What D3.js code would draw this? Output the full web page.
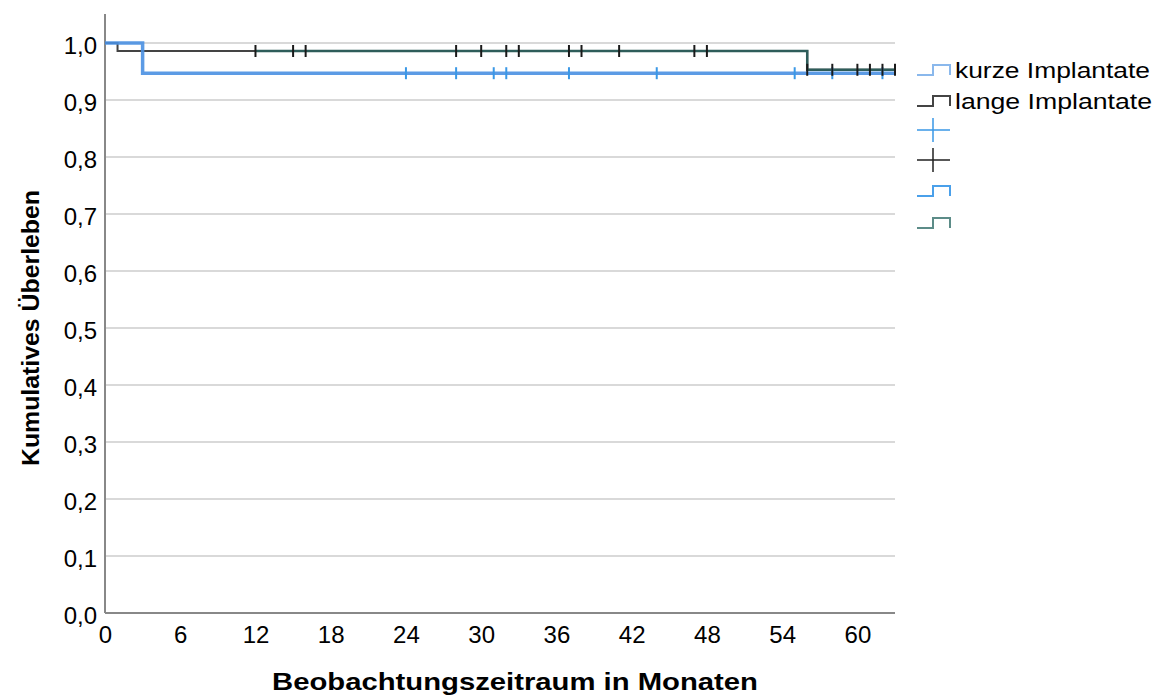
<!DOCTYPE html>
<html>
<head>
<meta charset="utf-8">
<script src="https://cdn.jsdelivr.net/npm/d3@7"></script>
<style>
  body { margin:0; background:#fff; }
  svg { display:block; font-family:"Liberation Sans", Arial, sans-serif; }
</style>
</head>
<body>
<div id="chart"></div>
<script>
// Kaplan-Meier steps: [month, survival]
const kurzeSteps = [[0,1.0],[3,0.947],[63,0.947]];
const langeSteps = [[0,1.0],[1,0.986],[56,0.953],[63,0.953]];
// censored observations (months)
const kurzeCensor = [24,28,31,32,37,44,55,58,62];
const langeCensor = [12,15,16,28,30,32,33,37,38,41,47,48,56,58,60,61,62,63];
const xTicks = [0,6,12,18,24,30,36,42,48,54,60];
const yTicks = [0,0.1,0.2,0.3,0.4,0.5,0.6,0.7,0.8,0.9,1.0];
const legendLabels = ["kurze Implantate","lange Implantate","","","",""];

const width = 1156, height = 697;
const margin = {t:14, r:261, b:84, l:105};
const w = width - margin.l - margin.r;
const h = height - margin.t - margin.b;

const svg = d3.select('#chart').append('svg')
  .attr('width',width).attr('height',height);

const scaleX = d3.scaleLinear().domain([0,63]).range([0,w]);
const scaleY = d3.scaleLinear().domain([0,1.0]).range([h,29]);

const plot = svg.append('g')
  .attr('transform',`translate(${margin.l},${margin.t})`);

// grid
plot.selectAll('.grid').data(yTicks).enter().append('line')
  .attr('class','grid')
  .attr('x1',0).attr('x2',w)
  .attr('y1',d => scaleY(d)).attr('y2',d => scaleY(d))
  .style('stroke','#d9d9d9').style('stroke-width',2);

// axes
const axisX = d3.axisBottom(scaleX).tickValues(xTicks).tickSize(0).tickPadding(13);
const axisY = d3.axisLeft(scaleY).tickValues(yTicks).tickSize(0).tickPadding(8)
  .tickFormat(d => d3.format('.1f')(d).replace('.',','));

const gx = plot.append('g').attr('transform',`translate(0,${h})`).call(axisX);
gx.select('.domain').remove();
gx.selectAll('text').style('font-size','24px').style('fill','#000').attr('dy','0.72em');
const gy = plot.append('g').call(axisY);
gy.select('.domain').remove();
gy.selectAll('text').style('font-size','24px').style('fill','#000').attr('dy','0.45em');

plot.append('line').attr('x1',0).attr('x2',0).attr('y1',0).attr('y2',h)
  .style('stroke','#888').style('stroke-width',2);
plot.append('line').attr('x1',0).attr('x2',w).attr('y1',h).attr('y2',h)
  .style('stroke','#888').style('stroke-width',2);

const line = d3.line()
  .x(d => scaleX(d[0])).y(d => scaleY(d[1]))
  .curve(d3.curveStepAfter);

// step function lookup
function survAt(steps, t){
  let v = steps[0][1];
  steps.forEach(s => { if (s[0] <= t) v = s[1]; });
  return v;
}

// lange: black line, teal overlay from first censor on
plot.append('path').datum(langeSteps).attr('d',line)
  .style('fill','none').style('stroke','#444').style('stroke-width',2);
const tealPart = [[12,survAt(langeSteps,12)]].concat(langeSteps.filter(d => d[0] > 12));
plot.append('path').datum(tealPart).attr('d',line)
  .style('fill','none').style('stroke','#2e5d5a').style('stroke-width',2.5);

// kurze: blue
plot.append('path').datum(kurzeSteps).attr('d',line)
  .style('fill','none').style('stroke','#4a90e2').style('stroke-width',3.5).style('opacity',0.9);

// censor marks
function censor(data, steps, color){
  plot.selectAll(null).data(data).enter().append('line')
    .attr('x1',d => scaleX(d)).attr('x2',d => scaleX(d))
    .attr('y1',d => scaleY(survAt(steps,d)) - 6)
    .attr('y2',d => scaleY(survAt(steps,d)) + 6)
    .style('stroke',color).style('stroke-width',2);
}
censor(kurzeCensor, kurzeSteps, '#3a98e6');
censor(langeCensor, langeSteps, '#1a1a1a');

// axis titles
svg.append('text')
  .attr('x', 515).attr('y', 690)
  .attr('text-anchor','middle')
  .attr('textLength',486).attr('lengthAdjust','spacingAndGlyphs')
  .style('font-size','24px').style('font-weight','bold')
  .text('Beobachtungszeitraum in Monaten');
svg.append('text')
  .attr('transform','translate(39,328) rotate(-90)')
  .attr('text-anchor','middle')
  .attr('textLength',276).attr('lengthAdjust','spacingAndGlyphs')
  .style('font-size','24px').style('font-weight','bold')
  .text('Kumulatives Überleben');

// legend
const legendColors = ['#8ab8ec','#444','#3a98e6','#222','#4aa0ea','#5c8c88'];
const legendTypes = ['step','step','plus','plus','step','step'];
const legendY = [70,101,130,160,191,223];
const legendLen = [195,197];
const legend = svg.append('g').attr('transform','translate(917,0)');
legendTypes.forEach((t,i) => {
  const y = legendY[i];
  if (t === 'step') {
    legend.append('path')
      .attr('d',`M0,${y+5}H16V${y-5}H33V${y+5}`)
      .style('fill','none').style('stroke',legendColors[i]).style('stroke-width',2);
  } else {
    legend.append('path')
      .attr('d',`M0,${y}H33M16,${y-12}V${y+12}`)
      .style('fill','none').style('stroke',legendColors[i]).style('stroke-width',1.5);
  }
  if (legendLabels[i]) {
    legend.append('text').attr('x',38).attr('y',y).attr('dy','0.35em')
      .attr('textLength',legendLen[i]).attr('lengthAdjust','spacingAndGlyphs')
      .style('font-size','22px').text(legendLabels[i]);
  }
});
</script>
</body>
</html>
